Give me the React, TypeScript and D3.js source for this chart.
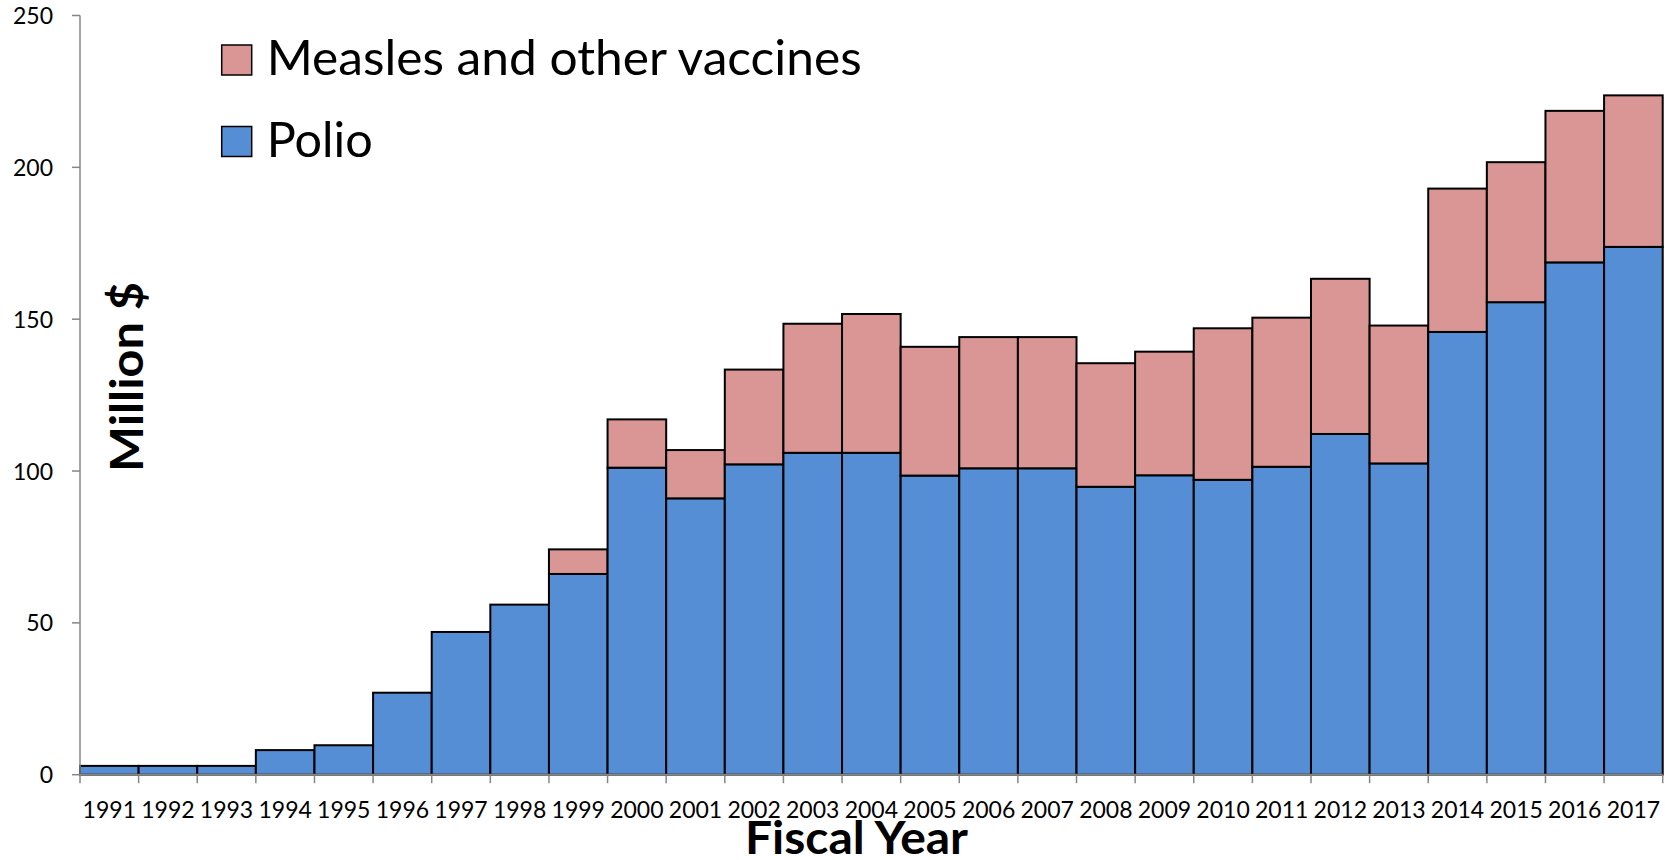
import React from "react";
import * as d3 from "d3";

const years = [
  "1991","1992","1993","1994","1995","1996","1997","1998","1999","2000",
  "2001","2002","2003","2004","2005","2006","2007","2008","2009","2010",
  "2011","2012","2013","2014","2015","2016","2017",
];
const polio = [
  2.9, 2.9, 2.9, 8.1, 9.7, 27.0, 47.0, 56.0, 66.1, 101.1,
  91.0, 102.2, 106.0, 106.0, 98.5, 100.9, 100.9, 94.8, 98.6, 97.1,
  101.4, 112.2, 102.5, 145.8, 155.6, 168.7, 173.8,
];
const measles = [
  0, 0, 0, 0, 0, 0, 0, 0, 8.1, 15.9,
  15.9, 31.2, 42.5, 45.7, 42.4, 43.2, 43.2, 40.7, 40.7, 49.9,
  49.1, 51.1, 45.4, 47.2, 46.1, 49.9, 49.9,
];
const yTicks = [0, 50, 100, 150, 200, 250];
const seriesNames = ["Measles and other vaccines", "Polio"];
const seriesColors = ["#D99694", "#558ED5"];

const W = 1665;
const H = 860;
const FONT = "Lato, 'Open Sans', sans-serif";

export default function App() {
  const x = d3.scaleBand<string>().domain(years).range([80, 1662.7]).padding(0);
  const y = d3.scaleLinear().domain([0, 250]).range([774.7, 15.5]);
  const bw = x.bandwidth();
  const axisColor = "#868686";

  return (
    <svg
      width={W}
      height={H}
      style={{ position: "absolute", left: 0, top: 0, background: "#fff" }}
      fontFamily={FONT}
    >
      {/* bars */}
      {years.map((yr, i) => {
        const x0 = x(yr)!;
        const p = polio[i];
        const m = measles[i];
        return (
          <g key={yr}>
            <rect
              x={x0}
              y={y(p)}
              width={bw}
              height={y(0) - y(p)}
              fill={seriesColors[1]}
              stroke="#000"
              strokeWidth={2}
            />
            {m > 0 && (
              <rect
                x={x0}
                y={y(p + m)}
                width={bw}
                height={y(p) - y(p + m)}
                fill={seriesColors[0]}
                stroke="#000"
                strokeWidth={2}
              />
            )}
          </g>
        );
      })}

      {/* y axis */}
      <line x1={80} x2={80} y1={y(250)} y2={y(0)} stroke={axisColor} strokeWidth={1.5} />
      {yTicks.map((t) => (
        <g key={t}>
          <line x1={72} x2={80} y1={y(t)} y2={y(t)} stroke={axisColor} strokeWidth={1.5} />
          <text x={53} y={y(t) + 8.5} textAnchor="end" fontSize={23} fill="#000">
            {t}
          </text>
        </g>
      ))}

      {/* x axis */}
      <line x1={80} x2={1662.7} y1={y(0)} y2={y(0)} stroke={axisColor} strokeWidth={2} />
      {years.map((yr) => (
        <line
          key={"t" + yr}
          x1={x(yr)!}
          x2={x(yr)!}
          y1={y(0)}
          y2={y(0) + 8.5}
          stroke={axisColor}
          strokeWidth={1.5}
        />
      ))}
      <line x1={1662.7} x2={1662.7} y1={y(0)} y2={y(0) + 8.5} stroke={axisColor} strokeWidth={1.5} />
      {years.map((yr) => (
        <text
          key={"l" + yr}
          x={x(yr)! + bw / 2}
          y={818}
          textAnchor="middle"
          fontSize={23}
          fill="#000"
        >
          {yr}
        </text>
      ))}

      {/* axis titles */}
      <text
        x={856.5}
        y={854}
        textAnchor="middle"
        fontSize={45}
        fontWeight="bold"
        textLength={223}
        lengthAdjust="spacingAndGlyphs"
        fill="#000"
      >
        Fiscal Year
      </text>
      <text
        transform="translate(143,377) rotate(-90)"
        textAnchor="middle"
        fontSize={45}
        fontWeight="bold"
        textLength={190}
        lengthAdjust="spacingAndGlyphs"
        fill="#000"
      >
        Million $
      </text>

      {/* legend */}
      {seriesNames.map((name, i) => {
        const top = i === 0 ? 45 : 126.5;
        return (
          <g key={name}>
            <rect
              x={221.7}
              y={top}
              width={30}
              height={30}
              fill={seriesColors[i]}
              stroke="#000"
              strokeWidth={1.5}
            />
            <text
              x={266.7}
              y={top + 30}
              fontSize={48}
              fill="#000"
              textLength={i === 0 ? 595 : 106}
              lengthAdjust="spacingAndGlyphs"
            >
              {name}
            </text>
          </g>
        );
      })}
    </svg>
  );
}
